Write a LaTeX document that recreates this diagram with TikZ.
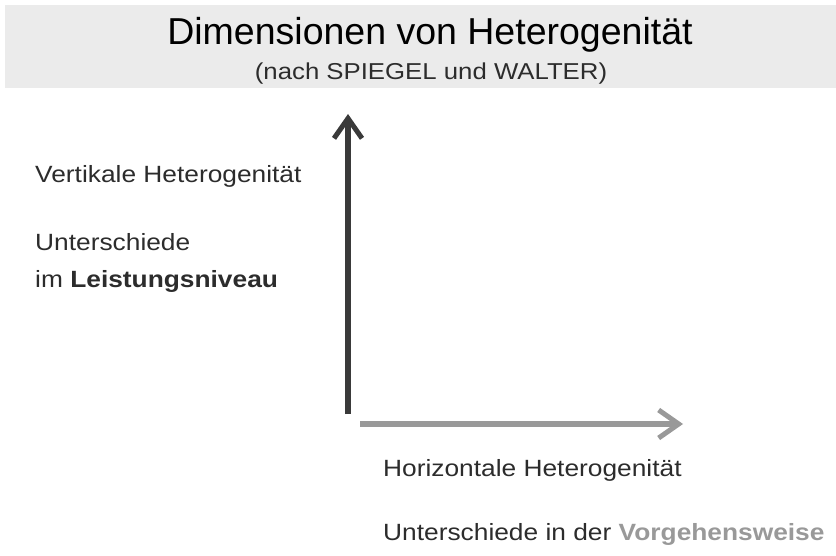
\documentclass[tikz,border=0pt]{standalone}
\usepackage{fontspec}
\setmainfont{Liberation Sans}
\newfontfamily\widefont[FakeStretch=1.12]{Liberation Sans}
\usetikzlibrary{arrows.meta}
\definecolor{band}{HTML}{EBEBEB}
\definecolor{txt}{HTML}{2C2C2C}
\definecolor{darkarrow}{HTML}{3A3A3A}
\definecolor{lightarrow}{HTML}{999999}
\begin{document}
\begin{tikzpicture}[x=1pt,y=-1pt,
  lbl/.style={anchor=base west,inner sep=0pt,text=txt,font=\widefont\fontsize{23.5}{28}\selectfont},
  axis/.style={line width=5.5pt,-{Straight Barb[length=20pt,width=28pt,line width=5pt]}}]
\useasboundingbox (0,0) rectangle (836,556);
\fill[band] (5,5) rectangle (836,88);
\node[anchor=base,inner sep=0pt,text=black,font=\fontsize{37.5}{42}\selectfont] (title) at (430,45) {Dimensionen von Heterogenität};
\node[anchor=base,inner sep=0pt,text=txt,font=\widefont\fontsize{23}{28}\selectfont] (sub) at (431,80) {(nach SPIEGEL und WALTER)};
\coordinate (vb) at (348,414);
\coordinate (vt) at (348,114);
\coordinate (hl) at (360,424);
\coordinate (hr) at (683,424);
\draw[axis,darkarrow] (vb) -- (vt);
\draw[axis,lightarrow] (hl) -- (hr);
\node[lbl] (v1) at (35,183) {Vertikale Heterogenität};
\node[lbl] (v2) at (35,251) {Unterschiede};
\node[lbl] (v3) at (35,288) {im \textbf{Leistungsniveau}};
\node[lbl] (h1) at (383,476) {Horizontale Heterogenität};
\node[lbl] (h2) at (383,540) {Unterschiede in der \textcolor{lightarrow}{\textbf{Vorgehensweise}}};
\end{tikzpicture}
\end{document}
